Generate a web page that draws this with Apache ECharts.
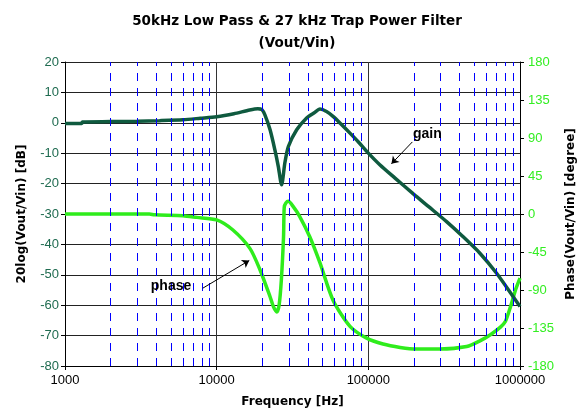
<!DOCTYPE html>
<html>
<head>
<meta charset="utf-8">
<script src="https://cdn.jsdelivr.net/npm/echarts@6/dist/echarts.min.js"></script>
<style>
html,body{margin:0;padding:0;background:#fff;}
#chart{width:581px;height:409px;}
</style>
</head>
<body>
<div id="chart"></div>
<script>
// ---- data ----
const gainFreq = [1000, 1290, 1300, 2000, 3000, 4200, 6000, 7800, 10000, 13000, 16500, 18700, 19900, 20800, 22500, 24200, 25500, 26800, 28200, 29700, 33700, 39200, 44000, 48000, 53000, 58500, 66000, 75700, 86000, 97500, 119000, 150000, 198000, 250000, 328000, 420000, 544000, 701000, 902000, 1000000];
const gainDb   = [-0.2, -0.2, 0.3, 0.4, 0.5, 0.7, 1.0, 1.5, 2.0, 3.0, 4.2, 4.6, 4.3, 2.6, -2.3, -8.9, -14.4, -20.4, -13.0, -7.8, -2.3, 1.6, 3.3, 4.5, 3.7, 2.1, -0.4, -3.4, -6.3, -9.4, -13.8, -18.2, -23.4, -27.6, -32.5, -37.4, -42.9, -49.5, -57.2, -60.4];

const phaseFreq = [1000, 3600, 3900, 6000, 7400, 10000, 12800, 16600, 19300, 22500, 23700, 24900, 25800, 26700, 27600, 27900, 28600, 29700, 31900, 35300, 41100, 48000, 58500, 75700, 97500, 125000, 162000, 207000, 296000, 445000, 548000, 638000, 743000, 802000, 865000, 934000, 1000000];
const phaseDeg  = [0, 0, -1, -2, -4, -7, -19, -41, -66, -98, -110, -116, -108, -78, -27, 8, 13, 15, 9, -3, -27, -58, -102, -133, -147, -154, -158, -160, -160, -157, -150, -143, -134, -127, -110, -90, -76];

const minorFreqs = [2000, 3000, 4000, 5000, 6000, 7000, 8000, 9000,
                    20000, 30000, 40000, 50000, 60000, 70000, 80000, 90000,
                    200000, 300000, 400000, 500000, 600000, 700000, 800000, 900000];

const xTicks = [1000, 10000, 100000, 1000000];
const dbTicks = [-80, -70, -60, -50, -40, -30, -20, -10, 0, 10, 20];
const degTicks = [-180, -135, -90, -45, 0, 45, 90, 135, 180];

// annotations (data coordinates: Hz, dB)
const gainArrow = [[195000, -6.3], [142000, -13.5]];
const phaseArrow = [[8100, -54.4], [16400, -45.3]];
const gainLabel = [245000, -3.6];
const phaseLabel = [5000, -53.6];

const FONT = '"Liberation Sans", Arial, sans-serif';
const BOLDFONT = '"DejaVu Sans", "Liberation Sans", sans-serif';
const gainColor = '#0f5a3f';
const phaseColor = '#2fec1c';

const chart = echarts.init(document.getElementById('chart'));
const option = {
  animation: false,
  backgroundColor: '#ffffff',
  title: {
    text: '50kHz Low Pass & 27 kHz Trap Power Filter\n(Vout/Vin)',
    left: 292, textAlign: 'center', top: 5,
    textStyle: { fontFamily: BOLDFONT, fontSize: 13.5, fontWeight: 'bold', color: '#000', lineHeight: 22 }
  },
  grid: { left: 65, right: 61, top: 62, bottom: 43, containLabel: false, outerBoundsMode: 'none' },
  xAxis: {
    type: 'log', logBase: 10, min: xTicks[0], max: xTicks[xTicks.length - 1],
    name: 'Frequency [Hz]', nameLocation: 'middle', nameGap: 30,
    nameTextStyle: { fontFamily: BOLDFONT, fontSize: 12, fontWeight: 'bold', color: '#000' },
    axisLine: { show: true, onZero: false, lineStyle: { color: '#000', width: 1 } },
    axisTick: { show: true, length: 4, lineStyle: { color: '#000' } },
    axisLabel: { fontFamily: FONT, fontSize: 13, color: '#000', margin: 8,
      formatter: v => String(Math.round(v)) },
    splitLine: { show: true, lineStyle: { color: '#333', width: 1 } },
    minorTick: { show: false }, minorSplitLine: { show: false }
  },
  yAxis: [{
    type: 'value', min: dbTicks[0], max: dbTicks[dbTicks.length - 1], interval: 10,
    name: '20log(Vout/Vin) [dB]', nameLocation: 'middle', nameGap: 37, nameRotate: 90,
    nameTextStyle: { fontFamily: BOLDFONT, fontSize: 12, fontWeight: 'bold', color: '#000' },
    axisLine: { show: true, lineStyle: { color: '#000', width: 1 } },
    axisTick: { show: true, length: 4, lineStyle: { color: '#000' } },
    axisLabel: { fontFamily: FONT, fontSize: 13, color: '#1f6b50', margin: 6 },
    splitLine: { show: true, lineStyle: { color: '#222', width: 1 } }
  }, {
    type: 'value', min: degTicks[0], max: degTicks[degTicks.length - 1], interval: 45,
    position: 'right',
    name: 'Phase(Vout/Vin) [degree]', nameLocation: 'middle', nameGap: 44, nameRotate: 90,
    nameTextStyle: { fontFamily: BOLDFONT, fontSize: 12, fontWeight: 'bold', color: '#000' },
    axisLine: { show: true, lineStyle: { color: '#000', width: 1 } },
    axisTick: { show: true, length: 4, lineStyle: { color: '#000' } },
    axisLabel: { fontFamily: FONT, fontSize: 13, color: '#33ee22', margin: 8 },
    splitLine: { show: false }
  }],
  series: [{
    name: 'grid', type: 'line', xAxisIndex: 0, yAxisIndex: 0, z: 1,
    data: gainFreq.map((f, i) => [f, gainDb[i]]),
    showSymbol: false, symbol: 'none', lineStyle: { width: 0, opacity: 0 }, silent: true,
    markLine: {
      silent: true, symbol: 'none', animation: false,
      label: { show: false },
      lineStyle: { color: '#0000ff', width: 1, type: [8, 7] },
      data: minorFreqs.map(f => ({ xAxis: f }))
    }
  }, {
    name: 'phase', type: 'line', xAxisIndex: 0, yAxisIndex: 1, z: 3,
    data: phaseFreq.map((f, i) => [f, phaseDeg[i]]),
    showSymbol: false, symbol: 'none', smooth: 0.25,
    lineStyle: { color: phaseColor, width: 3.5 }
  }, {
    name: 'gain', type: 'line', xAxisIndex: 0, yAxisIndex: 0, z: 4,
    data: gainFreq.map((f, i) => [f, gainDb[i]]),
    showSymbol: false, symbol: 'none', smooth: 0.25,
    lineStyle: { color: gainColor, width: 3.5 },
    markLine: {
      silent: true, symbol: ['none', 'arrow'], symbolSize: 7, animation: false,
      label: { show: false },
      lineStyle: { color: '#000', width: 1, type: 'solid' },
      data: [
        [{ coord: gainArrow[0] }, { coord: gainArrow[1] }],
        [{ coord: phaseArrow[0] }, { coord: phaseArrow[1] }]
      ]
    },
    markPoint: {
      silent: true, symbol: 'circle', symbolSize: 0, animation: false,
      label: { show: true, position: 'inside', fontFamily: FONT, fontSize: 14, fontWeight: 'bold', color: '#000' },
      data: [
        { coord: gainLabel, label: { formatter: 'gain' } },
        { coord: phaseLabel, label: { formatter: 'phase' } }
      ]
    }
  }]
};
chart.setOption(option);
</script>
</body>
</html>
